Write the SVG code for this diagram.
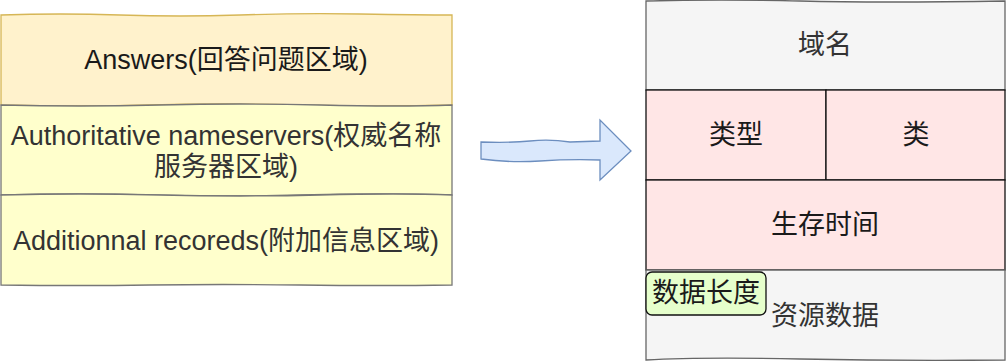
<svg xmlns="http://www.w3.org/2000/svg" width="1007" height="362" viewBox="0 0 1007 362">
<style>
text{font-family:"Liberation Sans","Noto Sans CJK SC",sans-serif;font-size:27px;text-anchor:middle;dominant-baseline:central}
.ans{fill:#fff2cc;stroke:#d6b656;stroke-width:1.3}
.yel{fill:#ffffcc;stroke:#777;stroke-width:1.3}
.gray{fill:#f5f5f5;stroke:#666;stroke-width:1.3}
.pink{fill:#ffe6e6;stroke:#111;stroke-width:1.3}
.green{fill:#e6ffcc;stroke:#111;stroke-width:1.3}
.t{fill:#1a1a1a}
.tg{fill:#333}
</style>
<g id="answers">
<path class="ans" d="M1 15 Q60 13 120 15 T240 15 T360 14 T452 15 L452 60 L452 105 Q380 107 300 105 T150 105 T1 105 L1 60 Z"/>
<text class="t" x="226" y="60">Answers(回答问题区域)</text>
</g>
<g id="authority">
<path class="yel" d="M1 105 Q80 107 160 105 T320 105 T452 105 L452 150 L452 195 Q380 193 300 195 T150 195 T1 195 L1 150 Z"/>
<text class="tg" x="226" y="136">Authoritative nameservers(权威名称</text>
<text class="tg" x="226" y="167">服务器区域)</text>
</g>
<g id="additional">
<path class="yel" d="M1 195 Q80 193 160 195 T320 195 T452 195 L452 240 L452 285 Q380 286 300 285 T150 285 T1 285 L1 240 Z"/>
<text class="tg" x="226" y="241">Additionnal recoreds(附加信息区域)</text>
</g>
<g id="connectors">
<path d="M481 142 Q510 143 530 141 T570 142 L600 141 L600 120 L631 151 L600 180 L600 160 Q570 159 540 161 T481 159 Z" fill="#dae8fc" stroke="#6c8ebf" stroke-width="1.3"/>
</g>
<g id="domain">
<path class="gray" d="M646 1 Q720 -1 800 1 T1005 1 L1005 90 L646 90 Z"/>
<text class="tg" x="825" y="45">域名</text>
</g>
<g id="type">
<rect class="pink" x="646" y="90" width="180" height="90"/>
<text class="t" x="736" y="135">类型</text>
</g>
<g id="class">
<rect class="pink" x="826" y="90" width="179" height="90"/>
<text class="t" x="916" y="135">类</text>
</g>
<g id="ttl">
<rect class="pink" x="646" y="180" width="359" height="90"/>
<text class="t" x="825" y="225">生存时间</text>
</g>
<g id="rdata">
<path class="gray" d="M646 270 L1005 270 L1005 360 Q900 361 800 359 T646 360 Z"/>
<text class="tg" x="825" y="316">资源数据</text>
</g>
<g id="rdlength">
<rect class="green" x="646" y="272" width="120" height="43" rx="6"/>
<text class="t" x="706" y="293">数据长度</text>
</g>
</svg>
